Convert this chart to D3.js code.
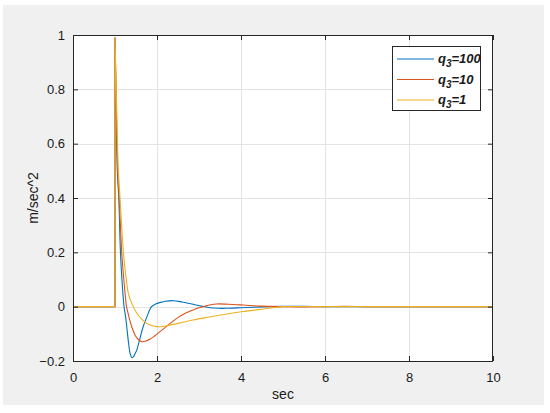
<!DOCTYPE html>
<html><head><meta charset="utf-8">
<script src="https://cdn.jsdelivr.net/npm/d3@7"></script>
<style>body{margin:0;background:#fff;} text{font-family:"Liberation Sans",Arial,sans-serif;}</style>
</head><body>
<svg id="c" width="550" height="413"></svg>
<script>
// Data
const tQ100 = [0,0.5,1.0,1.0,1.02,1.055,1.09,1.13,1.165,1.20,1.215,1.25,1.28,1.32,1.36,1.40,1.44,1.48,1.52,1.58,1.67,1.77,1.87,1.97,2.07,2.2,2.39,2.6,2.86,3.06,3.26,3.46,3.66,4.0,4.3,4.7,5.0,5.5,6.0,6.5,7.0,8.0,9.0,10.0];
const yQ100 = [0,0,0,0.99,0.80,0.50,0.40,0.20,0.10,0.025,0.0,-0.035,-0.074,-0.13,-0.172,-0.188,-0.184,-0.172,-0.159,-0.125,-0.074,-0.033,0.0,0.01,0.015,0.02,0.022,0.017,0.009,0.002,-0.004,-0.006,-0.006,-0.004,-0.002,0.0,0.001,0.001,0.0,0.0,0.0,0.0,0.0,0.0];
const tQ10 = [0,0.5,1.0,1.0,1.025,1.065,1.10,1.16,1.21,1.255,1.275,1.32,1.40,1.48,1.55,1.635,1.72,1.83,1.95,2.07,2.27,2.47,2.66,2.86,3.0,3.1,3.25,3.42,3.7,4.05,4.45,5.0,5.5,6.0,6.5,7.0,8.0,9.0,10.0];
const yQ10 = [0,0,0,0.99,0.80,0.50,0.40,0.20,0.10,0.025,0.0,-0.03,-0.075,-0.105,-0.12,-0.129,-0.127,-0.12,-0.107,-0.092,-0.067,-0.043,-0.025,-0.012,-0.004,0.0,0.006,0.01,0.009,0.006,0.002,0.0,-0.001,0.0,0.001,0.0,0.0,0.0,0.0];
const tQ1 = [0,0.5,1.0,1.0,1.03,1.08,1.12,1.20,1.27,1.317,1.40,1.52,1.63,1.75,1.91,2.07,2.3,2.6,2.86,3.25,3.66,4.05,4.45,4.8,5.0,6.0,7.0,8.0,9.0,10.0];
const yQ1 = [0,0,0,0.99,0.80,0.50,0.40,0.20,0.10,0.049,0.012,-0.024,-0.045,-0.061,-0.071,-0.074,-0.068,-0.058,-0.049,-0.038,-0.027,-0.018,-0.01,-0.003,0.0,0.0,0.0,0.0,0.0,0.0];
const seriesNames = ["100","10","1"];
const seriesColors = ["#0072BD","#D95319","#EDB120"];
const xTicks = [0,2,4,6,8,10];
const yTicks = [-0.2,0,0.2,0.4,0.6,0.8,1];
const xLabel = "sec", yLabel = "m/sec^2";

const svg = d3.select("#c");
svg.append("rect").attr("x",3).attr("y",5).attr("width",541).attr("height",400).attr("fill","#f0f0f0");
const L=73,T=35,R=493,B=361;
const x = d3.scaleLinear().domain([0,10]).range([L,R]);
const y = d3.scaleLinear().domain([-0.2,1]).range([B,T]);
svg.append("rect").attr("x",L).attr("y",T).attr("width",R-L).attr("height",B-T).attr("fill","#fff");
// grid
const g = svg.append("g");
g.selectAll(".gx").data(xTicks.slice(1,-1)).join("line").attr("x1",d=>x(d)+0.5).attr("x2",d=>x(d)+0.5).attr("y1",T).attr("y2",B).attr("stroke","#e3e3e3");
g.selectAll(".gy").data(yTicks.slice(1,-1)).join("line").attr("y1",d=>Math.round(y(d))+0.5).attr("y2",d=>Math.round(y(d))+0.5).attr("x1",L).attr("x2",R).attr("stroke","#e3e3e3");
// lines: step part linear, decay part smooth
const sets = [[tQ100,yQ100],[tQ10,yQ10],[tQ1,yQ1]];
const lineLin = d3.line().x(d=>x(d[0])).y(d=>y(d[1])).curve(d3.curveLinear);
const lineSmooth = d3.line().x(d=>x(d[0])).y(d=>y(d[1])).curve(d3.curveCatmullRom.alpha(0.5));
sets.forEach((s,i)=>{
  const pts = s[0].map((t,k)=>[t,s[1][k]]);
  let k = 1; while (k < pts.length && pts[k][0] !== pts[k-1][0]) k++;
  const d = lineLin(pts.slice(0,k+1)) + lineSmooth(pts.slice(k)).replace(/^M[^A-Za-z]*/, "");
  svg.append("path").attr("d",d).attr("fill","none").attr("stroke",seriesColors[i]).attr("stroke-width",1.1).attr("stroke-linejoin","round");
});
// axes with inward ticks
const ac = "#262626";
const ax = d3.axisBottom(x).tickValues(xTicks).tickSize(-5).tickPadding(12).tickFormat(d3.format("d"));
const axT = d3.axisTop(x).tickValues(xTicks).tickSize(-5).tickFormat("");
const ay = d3.axisLeft(y).tickValues(yTicks).tickSize(-5).tickPadding(8).tickFormat(d=>d===0?"0":d3.format("")(d));
const ayR = d3.axisRight(y).tickValues(yTicks).tickSize(-5).tickFormat("");
function style(sel){sel.select(".domain").attr("stroke",ac);sel.selectAll(".tick line").attr("stroke",ac);sel.selectAll("text").attr("fill","#1a1a1a").style("font-size","13px").style("font-family","Liberation Sans, Arial, sans-serif");}
svg.append("g").attr("transform",`translate(0,${B})`).call(ax).call(style);
svg.append("g").attr("transform",`translate(0,${T})`).call(axT).call(style);
svg.append("g").attr("transform",`translate(${L},0)`).call(ay).call(style);
svg.append("g").attr("transform",`translate(${R},0)`).call(ayR).call(style);
svg.selectAll(".domain").attr("d",null);
svg.append("rect").attr("x",L+0.5).attr("y",T+0.5).attr("width",R-L-1).attr("height",B-T).attr("fill","none").attr("stroke",ac);
// labels
svg.append("text").attr("x",(L+R)/2).attr("y",399).attr("text-anchor","middle").style("font-size","14px").attr("fill","#1a1a1a").text(xLabel);
svg.append("text").attr("transform",`translate(38,${(T+B)/2}) rotate(-90)`).attr("text-anchor","middle").style("font-size","14px").attr("fill","#1a1a1a").text(yLabel);
// legend
const lg = svg.append("g");
lg.append("rect").attr("x",392.5).attr("y",46.5).attr("width",88).attr("height",64).attr("fill","#fff").attr("stroke",ac);
seriesNames.forEach((n,i)=>{
  const yy = 59 + i*20.5;
  lg.append("line").attr("x1",397).attr("x2",434).attr("y1",yy).attr("y2",yy).attr("stroke",seriesColors[i]).attr("stroke-width",1.1);
  const t = lg.append("text").attr("x",438).attr("y",yy+4).style("font-size","13px").style("font-style","italic").style("font-weight","bold").attr("fill","#1a1a1a");
  t.append("tspan").text("q");
  t.append("tspan").attr("dy",4).style("font-size","10px").text("3");
  t.append("tspan").attr("dy",-4).text("="+n);
});
</script>
</body></html>
